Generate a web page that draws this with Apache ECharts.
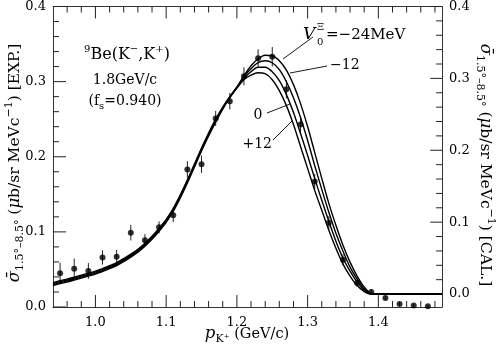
<!DOCTYPE html>
<html><head><meta charset="utf-8">
<script src="https://cdn.jsdelivr.net/npm/echarts@6/dist/echarts.min.js"></script>
<style>html,body{margin:0;padding:0;background:#fff}#c{width:498px;height:348px}</style>
</head><body><div id="c"></div>
<script>
// ---- data ----
const curveX = [0.94,0.95,0.96,0.97,0.98,0.99,1.00,1.01,1.02,1.03,1.04,1.05,1.06,1.07,1.08,1.09,1.10,1.11,1.12,1.13,1.14,1.15,1.16,1.17,1.18,1.19,
  1.20,1.21,1.22,1.23,1.24,1.25,1.26,1.27,1.28,1.29,1.30,1.31,1.32,1.33,1.34,1.35,1.36,1.37,1.38,1.39,1.40,1.49];
const curveM24 = [0.0160,0.0187,0.0208,0.0236,0.0264,0.0291,0.0319,0.0354,0.0395,0.0437,0.0493,0.0555,0.0624,0.0708,0.0805,0.0916,0.1040,0.1193,0.1380,0.1588,0.1810,0.2032,0.2240,0.2434,0.2601,0.2746,
  0.2878,0.3037,0.3176,0.3273,0.3322,0.3315,0.3245,0.3114,0.2913,0.2649,0.2330,0.1970,0.1609,0.1262,0.0957,0.0680,0.0444,0.0250,0.0097,0.0007,0,0];
const curveM12 = [0.0146,0.0173,0.0194,0.0222,0.0250,0.0277,0.0305,0.0340,0.0381,0.0423,0.0479,0.0541,0.0610,0.0694,0.0791,0.0902,0.1026,0.1179,0.1366,0.1574,0.1796,0.2018,0.2226,0.2420,0.2592,0.2741,
  0.2878,0.3024,0.3135,0.3218,0.3245,0.3218,0.3121,0.2954,0.2732,0.2455,0.2136,0.1789,0.1456,0.1137,0.0846,0.0596,0.0374,0.0208,0.0069,0,0,0];
const curveZero = [0.0132,0.0159,0.0180,0.0208,0.0236,0.0263,0.0291,0.0326,0.0367,0.0409,0.0465,0.0527,0.0596,0.0680,0.0777,0.0888,0.1012,0.1165,0.1352,0.1560,0.1782,0.2004,0.2212,0.2406,0.2582,0.2737,
  0.2871,0.3003,0.3093,0.3155,0.3155,0.3093,0.2968,0.2774,0.2524,0.2233,0.1928,0.1609,0.1304,0.1012,0.0735,0.0499,0.0319,0.0166,0.0049,0,0,0];
const curveP12 = [0.0118,0.0145,0.0166,0.0194,0.0222,0.0249,0.0277,0.0312,0.0353,0.0395,0.0451,0.0513,0.0582,0.0666,0.0763,0.0874,0.0998,0.1151,0.1338,0.1546,0.1768,0.1990,0.2198,0.2392,0.2573,0.2732,
  0.2864,0.2982,0.3044,0.3079,0.3065,0.2982,0.2829,0.2621,0.2358,0.2053,0.1748,0.1442,0.1165,0.0888,0.0638,0.0416,0.0250,0.0118,0.0035,0,0,0];

const expX = [0.95,0.97,0.99,1.01,1.03,1.05,1.07,1.09,1.11,1.13,1.15,1.17,1.19,1.21,1.23,1.25,1.27,1.29,1.31,1.33,1.35,1.37,1.39,1.41,1.43,1.45,1.47];
const expY = [0.045,0.051,0.048,0.066,0.067,0.099,0.089,0.106,0.122,0.183,0.190,0.251,0.274,0.307,0.331,0.333,0.290,0.243,0.167,0.112,0.063,0.032,0.020,0.012,0.004,0.002,0.001];
const expErr = [0.014,0.0135,0.0105,0.0095,0.009,0.0105,0.008,0.008,0.009,0.011,0.0115,0.010,0.011,0.012,0.012,0.013,0.012,0.011,0.010,0.009,0.007,0.005,0.004,0.003,0.002,0.002,0.002];

const xMajor = [1.0,1.1,1.2,1.3,1.4];
const xMinor = [0.96,0.98,1.02,1.04,1.06,1.08,1.12,1.14,1.16,1.18,1.22,1.24,1.26,1.28,1.32,1.34,1.36,1.38,1.42,1.44,1.46,1.48];
const yMajor = [0,0.1,0.2,0.3,0.4];
const yLeftMinor = [0.02,0.04,0.06,0.08,0.12,0.14,0.16,0.18,0.22,0.24,0.26,0.28,0.32,0.34,0.36,0.38];
const yRightMinor = [0.02,0.04,0.06,0.08,0.12,0.14,0.16,0.18,0.22,0.24,0.26,0.28,0.32,0.34,0.36,0.38];

// ---- chart ----
const SERIF = 'DejaVu Serif';
const AX = '#333';
const X_MIN = 0.94, X_MAX = 1.49, YL_MIN = 0, YL_MAX = 0.4, YR_MIN = -0.018, YR_MAX = 0.4;
// tick lengths expressed in axis units (about 12-13 px major, 6 px minor)
const TX_MAJ = 0.0159, TX_MIN = 0.008, TYL_MAJ = 0.0184, TYR_MAJ = 0.017, TY_MIN = 0.0085, TXR_MAJ = 0.0166, TXR_MIN = 0.0083;
const chart = echarts.init(document.getElementById('c'));
const pair = (xs, ys) => xs.map((x,i)=>[x, ys[i]]);
const lbl = {color:'#000', fontFamily:SERIF, fontSize:13};

const rich = {
  n:{fontFamily:SERIF, fontSize:14, lineHeight:20, color:'#000'},
  i:{fontFamily:SERIF, fontSize:15, lineHeight:20, fontStyle:'italic', color:'#000'},
  s:{fontFamily:SERIF, fontSize:10, lineHeight:10, verticalAlign:'top', color:'#000'},
  u:{fontFamily:SERIF, fontSize:10, lineHeight:10, verticalAlign:'bottom', color:'#000'}
};
const richBig = {
  n:{fontFamily:SERIF, fontSize:15.5, lineHeight:22, color:'#000'},
  i:{fontFamily:SERIF, fontSize:16.5, lineHeight:22, fontStyle:'italic', color:'#000'},
  s:{fontFamily:SERIF, fontSize:11, lineHeight:11, verticalAlign:'top', color:'#000'},
  u:{fontFamily:SERIF, fontSize:11, lineHeight:11, verticalAlign:'bottom', color:'#000'}
};
function txt(x, y, text, opts){
  opts = opts || {};
  return Object.assign({type:'text', x, y, silent:true,
    style:Object.assign({text, rich, fill:'#000', fontFamily:SERIF, fontSize:15, align:'center', verticalAlign:'middle'}, opts.style || {})},
    opts.extra || {});
}
function seg(x1,y1,x2,y2){
  return {type:'line', silent:true, shape:{x1,y1,x2,y2}, style:{stroke:'#000', lineWidth:0.9}};
}
// segments between two data points of an axis pair (used for error bars and ticks)
function segSeries(rows, yIdx, width){
  return {type:'custom', xAxisIndex:0, yAxisIndex:yIdx, silent:true, data:rows,
    renderItem:(params, api)=>{
      const a = api.coord([api.value(0), api.value(1)]);
      const b = api.coord([api.value(2), api.value(3)]);
      return {type:'line', shape:{x1:a[0],y1:a[1],x2:b[0],y2:b[1]}, style:{stroke:'#222', lineWidth:width}};
    }};
}
const ticksL = []
  .concat(xMajor.map(v=>[v, YL_MIN, v, YL_MIN+TX_MAJ]), xMinor.map(v=>[v, YL_MIN, v, YL_MIN+TX_MIN]))
  .concat(xMajor.map(v=>[v, YL_MAX, v, YL_MAX-TX_MAJ]), xMinor.map(v=>[v, YL_MAX, v, YL_MAX-TX_MIN]))
  .concat(yMajor.map(v=>[X_MIN, v, X_MIN+TYL_MAJ, v]), yLeftMinor.map(v=>[X_MIN, v, X_MIN+TY_MIN, v]));
const ticksR = []
  .concat(yMajor.map(v=>[X_MAX, v, X_MAX-TXR_MAJ, v]), yRightMinor.map(v=>[X_MAX, v, X_MAX-TXR_MIN, v]));
const errRows = expX.map((x,i)=>[x, expY[i]-expErr[i], x, expY[i]+expErr[i]]);

chart.setOption({
  animation:false,
  grid:{left:53, right:56, top:5, bottom:41},
  xAxis:[
    {type:'value', min:X_MIN, max:X_MAX, position:'bottom', splitLine:{show:false},
      axisLine:{show:true, onZero:false, lineStyle:{color:AX, width:1}}, axisTick:{show:false},
      axisLabel:{show:true, customValues:xMajor, formatter:v=>v.toFixed(1), margin:9, ...lbl}},
    {type:'value', min:X_MIN, max:X_MAX, position:'top', splitLine:{show:false},
      axisLine:{show:true, onZero:false, lineStyle:{color:AX, width:1}}, axisTick:{show:false}, axisLabel:{show:false}}
  ],
  yAxis:[
    {type:'value', min:YL_MIN, max:YL_MAX, interval:0.1, position:'left', splitLine:{show:false},
      axisLine:{show:true, onZero:false, lineStyle:{color:AX, width:1}}, axisTick:{show:false},
      axisLabel:{show:true, formatter:v=>v.toFixed(1), margin:7, ...lbl}},
    {type:'value', min:YR_MIN, max:YR_MAX, position:'right', splitLine:{show:false},
      axisLine:{show:true, onZero:false, lineStyle:{color:AX, width:1}}, axisTick:{show:false},
      axisLabel:{show:true, customValues:yMajor, formatter:v=>v.toFixed(1), margin:7, ...lbl}}
  ],
  series:[
    segSeries(ticksL, 0, 1),
    segSeries(ticksR, 1, 1),
    ...[curveM24, curveM12, curveZero, curveP12].map(c => ({
      type:'line', xAxisIndex:0, yAxisIndex:1, data:pair(curveX, c), showSymbol:false, smooth:0.3,
      lineStyle:{color:'#000', width:1.4}, silent:true, clip:true
    })),
    segSeries(errRows, 0, 1),
    {type:'scatter', xAxisIndex:0, yAxisIndex:0, data:pair(expX, expY), symbol:'circle', symbolSize:6,
      itemStyle:{color:'#000'}, silent:true}
  ],
  graphic:[
    txt(127, 55, '{s|9}{n|Be(K}{s|−}{n|,K}{s|+}{n|)}', {style:{rich:Object.assign({}, rich, {n:{...rich.n, fontSize:16, lineHeight:22}})}}),
    txt(125, 80, '{n|1.8GeV/c}'),
    txt(125, 101, '{n|(f}{u|s}{n|=0.940)}'),
    txt(303, 35, '{i|V}', {style:{align:'left', rich:Object.assign({}, rich, {i:{...rich.i, fontSize:17}})}}),
    txt(317, 27, 'Ξ', {style:{align:'left', fontSize:10}}),
    txt(317, 42, '0', {style:{align:'left', fontSize:10}}),
    txt(326, 35, '{n|=−24MeV}', {style:{align:'left', rich:Object.assign({}, rich, {n:{...rich.n, fontSize:15}})}}),
    txt(330, 65, '{n|−12}', {style:{align:'left'}}),
    txt(258, 115, '{n|0}'),
    txt(272, 144, '{n|+12}', {style:{align:'right'}}),
    seg(313, 37, 283, 59),
    seg(327, 66, 290, 73),
    seg(267, 113, 290, 104),
    seg(273, 140, 292, 121),
    txt(247, 334, '{i|p}{u|K⁺} {n|(GeV/c)}', {style:{rich:Object.assign({}, richBig, {n:{...richBig.n, fontSize:14.5}})}}),
    txt(15, 163, '{i|σ̄}{u|1.5°–8.5°}{n| (}{i|μ}{n|b/sr MeVc}{s|−1}{n|) [EXP.]}', {style:{rich:richBig}, extra:{rotation:Math.PI/2}}),
    txt(485, 165, '{i|σ̄}{u|1.5°–8.5°}{n| (}{i|μ}{n|b/sr MeVc}{s|−1}{n|) [CAL.]}', {style:{rich:richBig}, extra:{rotation:-Math.PI/2}})
  ]
});
</script></body></html>
